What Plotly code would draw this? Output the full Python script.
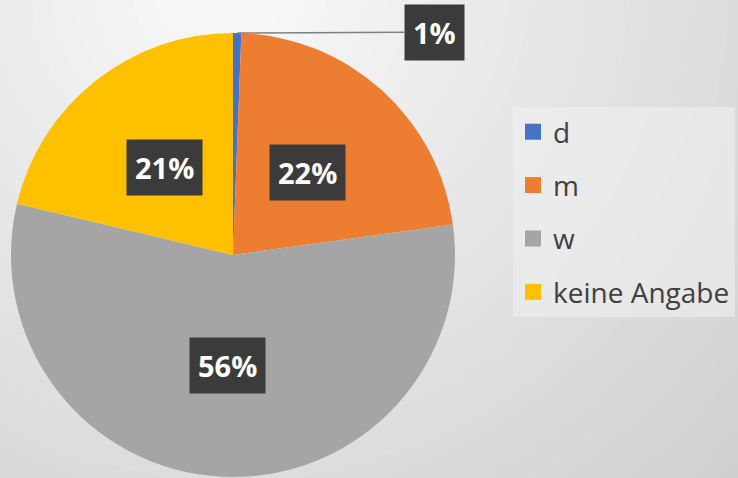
import numpy as np
import plotly.graph_objects as go

# Geschlecht-Verteilung
labels = ['d', 'm', 'w', 'keine Angabe']
values = [0.6, 22.2, 55.9, 21.3]
colors = ['#4472C4', '#ED7D31', '#A5A5A5', '#FFC000']

W, H = 738, 478
cx, cy, R = 233, 255, 222   # pie centre / radius in px

fig = go.Figure()

fig.add_trace(go.Pie(
    labels=labels, values=values, sort=False, direction='clockwise',
    marker=dict(colors=colors, line=dict(width=0)),
    textinfo='none', hoverinfo='label+percent', showlegend=False,
    domain=dict(x=[(cx - R) / W, (cx + R) / W], y=[1 - (cy + R) / H, 1 - (cy - R) / H]),
))

# legend entries (separate traces so the gaps can be set)
for lab, col in zip(labels, colors):
    fig.add_trace(go.Scatter(x=[None], y=[None], mode='markers', name=lab,
                             legendgroup=lab,
                             marker=dict(symbol='square', size=16, color=col)))

# labels in dark boxes, placed from the slice angles
total = sum(values)
cum = np.cumsum([0] + values[:-1])
annotations = []
for i, v in enumerate(values):
    mid = (cum[i] + v / 2) / total * 2 * np.pi
    txt = f'<b>{round(100 * v / total)}%</b>'
    if v / total < 0.03:
        # small slice: label outside with leader line
        px, py = cx + R * np.sin(mid), cy - R * np.cos(mid)
        ann = dict(x=px / W, y=1 - py / H, showarrow=True, arrowhead=0,
                   arrowwidth=1.5, arrowcolor='#808080', ax=197, ay=-1)
    else:
        px, py = cx + 0.5 * R * np.sin(mid), cy - 0.5 * R * np.cos(mid)
        ann = dict(x=px / W, y=1 - py / H, showarrow=False,
                   xanchor='center', yanchor='middle')
    ann.update(xref='paper', yref='paper', text=txt, borderpad=8, bgcolor='#3b3b3b',
               font=dict(family='Open Sans', size=29, color='white'))
    annotations.append(ann)

# soft grey radial background
shapes = []
gx, gy = 230, -20
for r in range(760, 0, -20):
    L = int(max(205, min(247, 251 - 0.06 * r)))
    shapes.append(dict(type='circle', xref='paper', yref='paper', layer='below',
                       x0=(gx - r) / W, x1=(gx + r) / W, y0=1 - (gy + r) / H, y1=1 - (gy - r) / H,
                       fillcolor=f'rgb({L},{L},{L})', line=dict(width=0)))

fig.update_layout(
    width=W, height=H,
    margin=dict(l=0, r=0, t=0, b=0),
    paper_bgcolor='rgb(205,205,205)',
    plot_bgcolor='rgba(0,0,0,0)',
    xaxis=dict(visible=False), yaxis=dict(visible=False),
    shapes=shapes,
    annotations=annotations,
    legend=dict(x=513 / W, y=1 - 107 / H, xanchor='left', yanchor='top',
                bgcolor='rgba(240,240,240,0.6)', tracegroupgap=14,
                font=dict(family='Open Sans', size=28, color='#404040')),
)

fig.write_html("out.html", config={'displayModeBar': False},
               post_script="document.body.style.margin='0';")
